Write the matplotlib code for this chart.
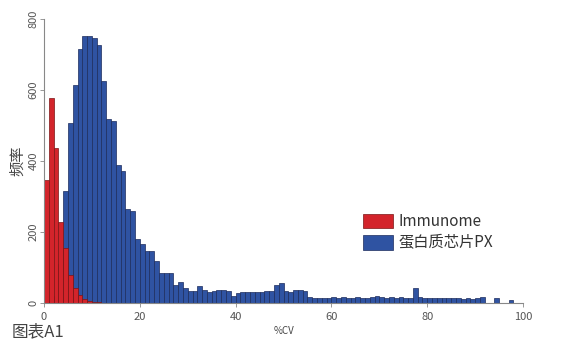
import numpy as np
import matplotlib
matplotlib.use("Agg")
import matplotlib.pyplot as plt

plt.rcParams['font.family'] = ['Noto Sans CJK SC', 'DejaVu Sans']

# counts per 1 %CV bin, starting at 0
immunome = [345, 576, 436, 228, 154, 79, 41, 22, 10, 5, 3, 2, 1]
px_chip = [0, 3, 20, 110, 315, 507, 615, 715, 753, 751,
           745, 727, 624, 517, 513, 388, 372, 264, 260, 180,
           166, 147, 147, 118, 85, 85, 85, 52, 60, 43,
           35, 35, 49, 38, 32, 34, 36, 36, 34, 20,
           29, 32, 31, 32, 32, 30, 33, 33, 52, 56,
           33, 32, 38, 36, 35, 16, 15, 15, 14, 15,
           18, 15, 16, 15, 14, 16, 15, 14, 16, 20,
           16, 15, 17, 15, 16, 14, 15, 41, 16, 15,
           14, 15, 13, 14, 13, 14, 13, 12, 13, 12,
           13, 16, 0, 0, 14, 0, 0, 9, 0, 0]
labels = ['Immunome', '蛋白质芯片PX']

red = '#d3242b'
blue = '#2f53a2'

fig = plt.figure(figsize=(5.61, 3.53), dpi=100)
ax = fig.add_axes([0.0784, 0.1416, 0.854, 0.805])

ax.bar(np.arange(len(px_chip)), px_chip, width=1, align='edge',
       color=blue, edgecolor='#1c2c5c', linewidth=0.5, label=labels[1])
ax.bar(np.arange(len(immunome)), immunome, width=1, align='edge',
       color=red, edgecolor='#7a1515', linewidth=0.5, label=labels[0])

ax.set_xlim(0, 100)
ax.set_ylim(0, 800)
for s in ['top', 'right']:
    ax.spines[s].set_visible(False)
for s in ['left', 'bottom']:
    ax.spines[s].set_color('#888888')
    ax.spines[s].set_linewidth(0.8)

ax.set_xticks(range(0, 101, 20))
ax.set_yticks(range(0, 801, 200))
ax.tick_params(axis='both', colors='#888888', labelcolor='#555555',
               labelsize=8, length=3, width=0.6)
ax.tick_params(axis='y', pad=1)
for t in ax.get_yticklabels():
    t.set_rotation(90)
    t.set_va('center')

ax.set_xlabel('%CV', fontsize=7, color='#444444', labelpad=3)
ax.set_ylabel('频率', fontsize=11, color='#444444', labelpad=2)

h, l = ax.get_legend_handles_labels()
ax.legend(h[::-1], l[::-1], loc='upper left', bbox_to_anchor=(0.637, 0.365),
          frameon=False, fontsize=11, handlelength=2.0, handleheight=1.1,
          handletextpad=0.3, labelspacing=0.3, labelcolor='#333333')

fig.text(0.02, 0.048, '图表A1', fontsize=12, color='#444444')

fig.savefig('out.png', dpi=100)
